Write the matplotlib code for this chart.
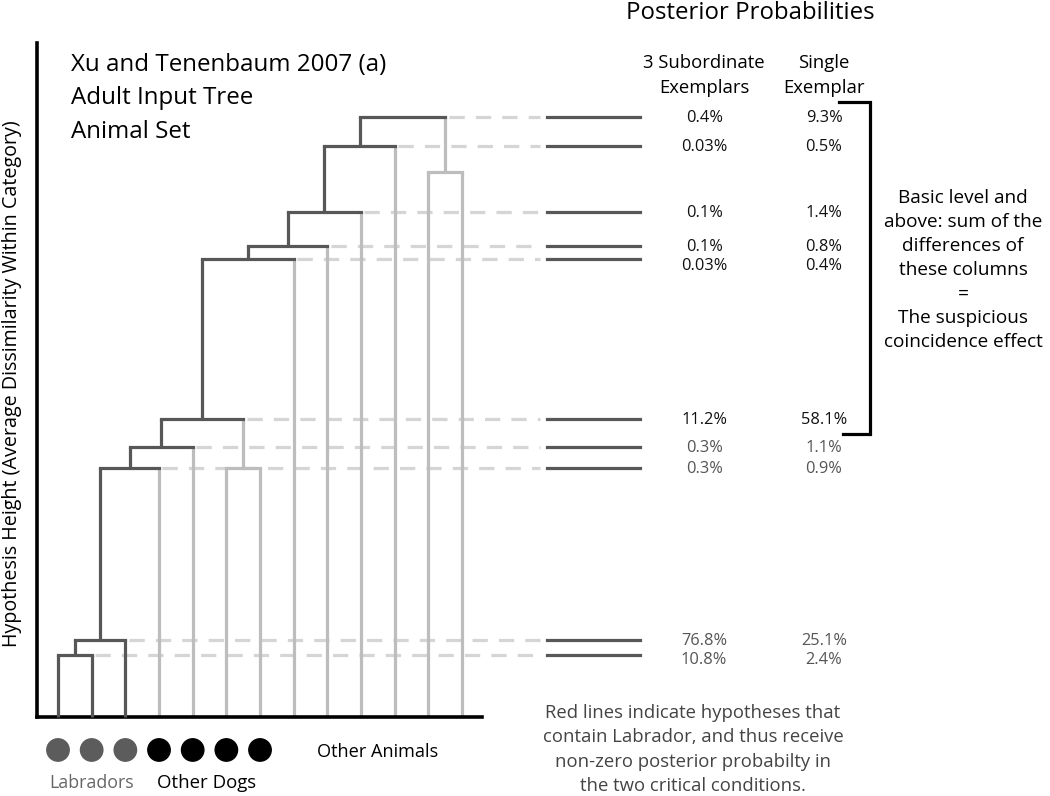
import numpy as np
import matplotlib
matplotlib.use('Agg')
import matplotlib.pyplot as plt

plt.rcParams['font.family'] = ['Open Sans', 'DejaVu Sans']
plt.rcParams['lines.scale_dashes'] = False

# leaves of the tree, left to right
leaf_kind = ['Labrador'] * 3 + ['Other Dog'] * 4 + ['Other Animal'] * 6
# merges: node ids 13.. in this order, children are leaf or earlier merge ids
merge_left = [0, 13, 14, 5, 15, 17, 18, 19, 20, 21, 11, 22]
merge_right = [1, 2, 3, 6, 4, 16, 7, 8, 9, 10, 12, 23]
merge_height = [0.103, 0.128, 0.415, 0.415, 0.450, 0.497, 0.763, 0.785, 0.842, 0.952, 0.908, 1.000]

# posterior probabilities for the labrador hypotheses, highest hypothesis first
subordinate = ['0.4%', '0.03%', '0.1%', '0.1%', '0.03%', '11.2%', '0.3%', '0.3%', '76.8%', '10.8%']
single = ['9.3%', '0.5%', '1.4%', '0.8%', '0.4%', '58.1%', '1.1%', '0.9%', '25.1%', '2.4%']
n_basic = 6  # rows from basic level upward

dark = '#575757'
light = '#bdbdbd'
dash_col = '#d5d5d5'

n_leaf = len(leaf_kind)
xpos = {i: float(i) for i in range(n_leaf)}
ypos = {i: 0.0 for i in range(n_leaf)}
has_lab = {i: leaf_kind[i] == 'Labrador' for i in range(n_leaf)}
for k, (a, b, h) in enumerate(zip(merge_left, merge_right, merge_height)):
    node = n_leaf + k
    xpos[node] = (xpos[a] + xpos[b]) / 2
    ypos[node] = h
    has_lab[node] = has_lab[a] or has_lab[b]

fig = plt.figure(figsize=(10.5, 7.96), dpi=100)
ax = fig.add_axes([0, 0, 1, 1])
ax.set_xlim(-1.7226, 29.462)
ax.set_ylim(-0.1317, 1.195)

lw = 2.3
# dashed guides and right-hand segments for the labrador hypotheses
lab_nodes = [n_leaf + k for k in range(len(merge_height)) if has_lab[n_leaf + k]]
lab_nodes.sort(key=lambda n: -ypos[n])
for n in lab_nodes:
    right = xpos[merge_right[n - n_leaf]]
    ax.plot([right + 0.1, 14.32], [ypos[n]] * 2, color=dash_col, lw=lw,
            linestyle=(0, (11, 8)), zorder=1)
    ax.plot([14.52, 17.29], [ypos[n]] * 2, color=dark, lw=lw, zorder=2)

# tree
for k, (a, b, h) in enumerate(zip(merge_left, merge_right, merge_height)):
    node = n_leaf + k
    for c in (a, b):
        ax.plot([xpos[c], xpos[c]], [ypos[c], h], color=dark if has_lab[c] else light,
                lw=lw, zorder=3 if has_lab[c] else 2, solid_capstyle='butt')
    ax.plot([xpos[a], xpos[b]], [h, h], color=dark if has_lab[node] else light,
            lw=lw, zorder=4 if has_lab[node] else 2, solid_capstyle='projecting')

# axes spines
for s in ['top', 'right']:
    ax.spines[s].set_visible(False)
ax.spines['left'].set_position(('data', -0.624))
ax.spines['left'].set_bounds(0, 1.123)
ax.spines['bottom'].set_position(('data', 0))
ax.spines['bottom'].set_bounds(-0.624, 12.6)
for s in ['left', 'bottom']:
    ax.spines[s].set_linewidth(2.6)
    ax.spines[s].set_color('black')
    ax.spines[s].set_capstyle('projecting')
ax.set_xticks([])
ax.set_yticks([])
ax.patch.set_visible(False)

# leaf dots
dot_idx = [i for i in range(n_leaf) if leaf_kind[i] != 'Other Animal']
dot_col = ['#5c5c5c' if leaf_kind[i] == 'Labrador' else 'black' for i in dot_idx]
ax.scatter(dot_idx, [-0.055] * len(dot_idx), s=260, c=dot_col, clip_on=False, zorder=5)
ax.text(1, -0.11, 'Labradors', ha='center', va='center', fontsize=12.8, color='#666666')
ax.text(4.4, -0.11, 'Other Dogs', ha='center', va='center', fontsize=13.4, color='black')
ax.text(9.5, -0.058, 'Other Animals', ha='center', va='center', fontsize=13.1, color='black')

# y label and title
ax.text(-1.366, 0.556, 'Hypothesis Height (Average Dissimilarity Within Category)',
        rotation=90, ha='center', va='center', fontsize=14.2)
ax.text(0.386, 1.031, 'Xu and Tenenbaum 2007 (a)\nAdult Input Tree\nAnimal Set',
        ha='left', va='center', fontsize=17.4, linespacing=1.52)

# probability table
ax.text(20.55, 1.173, 'Posterior Probabilities', ha='center', va='center', fontsize=17.3)
ax.text(19.19, 1.069, '3 Subordinate\nExemplars', ha='center', va='center',
        fontsize=13.3, linespacing=1.55)
ax.text(22.75, 1.069, 'Single\nExemplar', ha='center', va='center',
        fontsize=13.3, linespacing=1.55)
prev = None
for r, n in enumerate(lab_nodes):
    ty = ypos[n] - 0.002
    if prev is not None and prev - ty < 0.031:
        ty = prev - 0.031
    prev = ty
    col = '#111111' if r < n_basic else '#555555'
    ax.text(19.19, ty, subordinate[r], ha='center', va='center', fontsize=11.8, color=col)
    ax.text(22.75, ty, single[r], ha='center', va='center', fontsize=11.8, color=col)

# bracket over the basic-level-and-above rows
top = ypos[lab_nodes[0]] + 0.025
bot = ypos[lab_nodes[n_basic - 1]] - 0.025
ax.plot([23.2, 24.12, 24.12, 23.3], [top, top, bot, bot], color='black', lw=2.3,
        solid_joinstyle='miter')
ax.text(26.88, 0.745, 'Basic level and\nabove: sum of the\ndifferences of\nthese columns\n=\n'
        'The suspicious\ncoincidence effect', ha='center', va='center', fontsize=13.7,
        linespacing=1.42)

ax.text(18.86, -0.054, 'Red lines indicate hypotheses that\ncontain Labrador, and thus receive\n'
        'non-zero posterior probabilty in\nthe two critical conditions.',
        ha='center', va='center', fontsize=13.3, color='#444444', linespacing=1.45)

fig.savefig('out.png', dpi=100)
